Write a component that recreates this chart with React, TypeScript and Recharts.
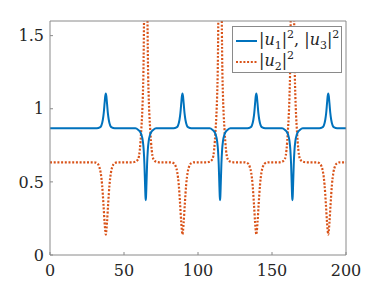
import { LineChart, Line, XAxis, YAxis, Legend } from 'recharts';

// ── values ────────────────────────────────────────────────────────────────────

const xTicks = [0, 50, 100, 150, 200];
const yTicks = [0, 0.5, 1, 1.5];

// |u1|^2, |u3|^2 : bumps up near 37.7 / 89.5 / 139.4 / 188, dips near 64.7 / 114.9 / 163.8
const blueX = [
  0,
  31.7, 33.7, 34.7, 35.7, 36.3, 36.9, 37.3, 37.7, 38.1, 38.5, 39.1, 39.7, 40.7, 41.7, 43.7,
  57.7, 59.7, 60.7, 61.7, 62.7, 63.3, 63.8, 64.2, 64.5, 64.7, 64.9, 65.2, 65.6, 66.1, 66.7, 67.7, 68.7, 69.7, 71.7,
  83.5, 85.5, 86.5, 87.5, 88.1, 88.7, 89.1, 89.5, 89.9, 90.3, 90.9, 91.5, 92.5, 93.5, 95.5,
  107.9, 109.9, 110.9, 111.9, 112.9, 113.5, 114.0, 114.4, 114.7, 114.9, 115.1, 115.4, 115.8, 116.3, 116.9, 117.9, 118.9, 119.9, 121.9,
  133.4, 135.4, 136.4, 137.4, 138.0, 138.6, 139.0, 139.4, 139.8, 140.2, 140.8, 141.4, 142.4, 143.4, 145.4,
  156.8, 158.8, 159.8, 160.8, 161.8, 162.4, 162.9, 163.3, 163.6, 163.8, 164.0, 164.3, 164.7, 165.2, 165.8, 166.8, 167.8, 168.8, 170.8,
  182.0, 184.0, 185.0, 186.0, 186.6, 187.2, 187.6, 188.0, 188.4, 188.8, 189.4, 190.0, 191.0, 192.0, 194.0,
  200,
];
const blueY = [
  0.866,
  0.866, 0.872, 0.885, 0.925, 0.97, 1.04, 1.085, 1.105, 1.085, 1.04, 0.97, 0.925, 0.885, 0.872, 0.866,
  0.866, 0.855, 0.845, 0.825, 0.78, 0.72, 0.62, 0.49, 0.40, 0.375, 0.40, 0.49, 0.62, 0.72, 0.78, 0.825, 0.845, 0.855, 0.866,
  0.866, 0.872, 0.885, 0.925, 0.97, 1.04, 1.085, 1.105, 1.085, 1.04, 0.97, 0.925, 0.885, 0.872, 0.866,
  0.866, 0.855, 0.845, 0.825, 0.78, 0.72, 0.62, 0.49, 0.40, 0.375, 0.40, 0.49, 0.62, 0.72, 0.78, 0.825, 0.845, 0.855, 0.866,
  0.866, 0.872, 0.885, 0.925, 0.97, 1.04, 1.085, 1.105, 1.085, 1.04, 0.97, 0.925, 0.885, 0.872, 0.866,
  0.866, 0.855, 0.845, 0.825, 0.78, 0.72, 0.62, 0.49, 0.40, 0.375, 0.40, 0.49, 0.62, 0.72, 0.78, 0.825, 0.845, 0.855, 0.866,
  0.866, 0.872, 0.885, 0.925, 0.97, 1.04, 1.085, 1.105, 1.085, 1.04, 0.97, 0.925, 0.885, 0.872, 0.866,
  0.866,
];

// |u2|^2 : dips where blue bumps, spikes (off the top) where blue dips
const orangeX = [
  0,
  29.7, 31.7, 33.2, 34.2, 35.2, 36.1, 36.9, 37.4, 37.7, 38.0, 38.5, 39.3, 40.2, 41.2, 42.2, 43.7, 45.7,
  55.7, 57.7, 59.2, 60.2, 60.7, 61.2, 61.7, 62.2, 62.7, 63.2, 63.7, 64.2, 64.7, 65.2, 65.7, 66.2, 66.7, 67.2, 67.7, 68.2, 68.7, 69.2, 70.2, 71.7, 73.7,
  81.5, 83.5, 85.0, 86.0, 87.0, 87.9, 88.7, 89.2, 89.5, 89.8, 90.3, 91.1, 92.0, 93.0, 94.0, 95.5, 97.5,
  105.9, 107.9, 109.4, 110.4, 110.9, 111.4, 111.9, 112.4, 112.9, 113.4, 113.9, 114.4, 114.9, 115.4, 115.9, 116.4, 116.9, 117.4, 117.9, 118.4, 118.9, 119.4, 120.4, 121.9, 123.9,
  131.4, 133.4, 134.9, 135.9, 136.9, 137.8, 138.6, 139.1, 139.4, 139.7, 140.2, 141.0, 141.9, 142.9, 143.9, 145.4, 147.4,
  154.8, 156.8, 158.3, 159.3, 159.8, 160.3, 160.8, 161.3, 161.8, 162.3, 162.8, 163.3, 163.8, 164.3, 164.8, 165.3, 165.8, 166.3, 166.8, 167.3, 167.8, 168.3, 169.3, 170.8, 172.8,
  180.0, 182.0, 183.5, 184.5, 185.5, 186.4, 187.2, 187.7, 188.0, 188.3, 188.8, 189.6, 190.5, 191.5, 192.5, 194.0, 196.0,
  200,
];
const orangeY = [
  0.634,
  0.634, 0.628, 0.605, 0.565, 0.48, 0.35, 0.22, 0.16, 0.14, 0.16, 0.22, 0.35, 0.48, 0.565, 0.605, 0.628, 0.634,
  0.634, 0.638, 0.65, 0.68, 0.72, 0.78, 0.86, 0.95, 1.08, 1.3, 1.8, 2.4, 2.6, 2.4, 1.8, 1.3, 1.08, 0.95, 0.86, 0.78, 0.72, 0.68, 0.65, 0.638, 0.634,
  0.634, 0.628, 0.605, 0.565, 0.48, 0.35, 0.22, 0.16, 0.14, 0.16, 0.22, 0.35, 0.48, 0.565, 0.605, 0.628, 0.634,
  0.634, 0.638, 0.65, 0.68, 0.72, 0.78, 0.86, 0.95, 1.08, 1.3, 1.8, 2.4, 2.6, 2.4, 1.8, 1.3, 1.08, 0.95, 0.86, 0.78, 0.72, 0.68, 0.65, 0.638, 0.634,
  0.634, 0.628, 0.605, 0.565, 0.48, 0.35, 0.22, 0.16, 0.14, 0.16, 0.22, 0.35, 0.48, 0.565, 0.605, 0.628, 0.634,
  0.634, 0.638, 0.65, 0.68, 0.72, 0.78, 0.86, 0.95, 1.08, 1.3, 1.8, 2.4, 2.6, 2.4, 1.8, 1.3, 1.08, 0.95, 0.86, 0.78, 0.72, 0.68, 0.65, 0.638, 0.634,
  0.634, 0.628, 0.605, 0.565, 0.48, 0.35, 0.22, 0.16, 0.14, 0.16, 0.22, 0.35, 0.48, 0.565, 0.605, 0.628, 0.634,
  0.634,
];

// ── styling ───────────────────────────────────────────────────────────────────

const BLUE = '#0072BD';
const ORANGE = '#D95319';
const AXIS = '#8a8a8a';
const TEXT = '#262626';
const SERIF = '"DejaVu Serif", "Liberation Serif", serif';

const blueData = blueX.map((x, i) => ({ x, y: blueY[i] }));
const orangeData = orangeX.map((x, i) => ({ x, y: orangeY[i] }));

const tickFont = { fontSize: 16, fontFamily: SERIF, fill: TEXT };

const small = { fontSize: 11, position: 'relative' as const };

function Mod({ n }: { n: string }) {
  return (
    <>
      |<i>u</i>
      <span style={{ ...small, top: 4 }}>{n}</span>
      |<span style={{ ...small, top: -7 }}>2</span>
    </>
  );
}

function LegendBox() {
  const row = { display: 'flex', alignItems: 'center', height: 21 };
  return (
    <div
      style={{
        width: 110, height: 47, boxSizing: 'border-box', border: `1px solid ${AXIS}`,
        background: '#fff', fontFamily: SERIF, fontSize: 16, color: TEXT,
        padding: '3px 0 0 3px', lineHeight: '21px', whiteSpace: 'nowrap',
      }}
    >
      <div style={row}>
        <svg width={21} height={6} style={{ marginRight: 2 }}>
          <line x1={0} y1={3} x2={21} y2={3} stroke={BLUE} strokeWidth={2} />
        </svg>
        <span><Mod n="1" />, <Mod n="3" /></span>
      </div>
      <div style={row}>
        <svg width={21} height={6} style={{ marginRight: 2 }}>
          <line x1={0} y1={3} x2={21} y2={3} stroke={ORANGE} strokeWidth={2} strokeDasharray="2 1.7" />
        </svg>
        <span><Mod n="2" /></span>
      </div>
    </div>
  );
}

export default function App() {
  return (
    <div style={{ position: 'absolute', left: 0, top: 0, background: '#fff' }}>
      <LineChart width={382} height={286} margin={{ top: 20, right: 35, bottom: 0, left: 0 }}>
        <XAxis
          xAxisId="b" type="number" dataKey="x" domain={[0, 200]} ticks={xTicks} interval={0}
          allowDataOverflow height={31} tickSize={-3} tickMargin={13} stroke={AXIS} tick={tickFont}
        />
        <XAxis
          xAxisId="t" orientation="top" type="number" dataKey="x" domain={[0, 200]} ticks={xTicks}
          interval={0} allowDataOverflow height={1} tickSize={-3} stroke={AXIS} tick={false}
        />
        <YAxis
          yAxisId="l" type="number" domain={[0, 1.6]} ticks={yTicks} interval={0} allowDataOverflow
          width={50} tickSize={-3} tickMargin={9} stroke={AXIS} tick={tickFont}
        />
        <YAxis
          yAxisId="r" orientation="right" type="number" domain={[0, 1.6]} ticks={yTicks} interval={0}
          allowDataOverflow width={1} tickSize={-3} stroke={AXIS} tick={false}
        />
        <Line
          xAxisId="b" yAxisId="l" data={orangeData} dataKey="y" type="monotone" stroke={ORANGE}
          strokeWidth={2.2} strokeDasharray="2 1.7" dot={false} isAnimationActive={false}
        />
        <Line
          xAxisId="b" yAxisId="l" data={blueData} dataKey="y" type="monotone" stroke={BLUE}
          strokeWidth={2} dot={false} isAnimationActive={false}
        />
        <Legend
          layout="vertical" align="center" verticalAlign="middle"
          wrapperStyle={{ left: 232, top: 26, width: 110 }}
          content={() => <LegendBox />}
        />
      </LineChart>
    </div>
  );
}
